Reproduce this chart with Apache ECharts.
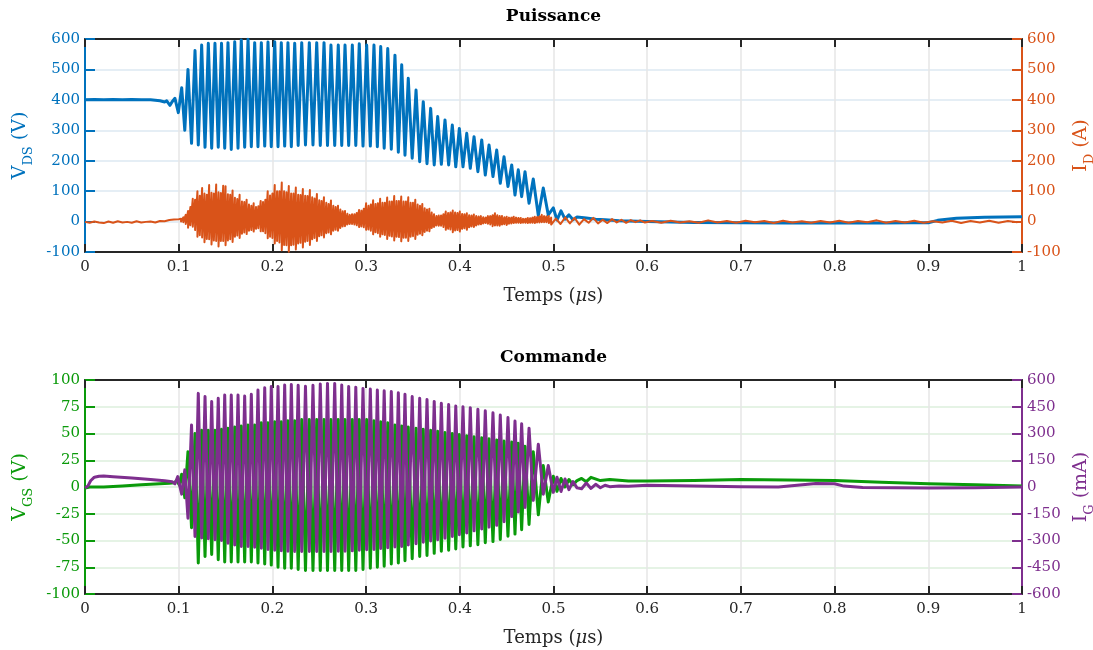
<!DOCTYPE html>
<html><head><meta charset="utf-8">
<script src="https://cdn.jsdelivr.net/npm/echarts@6/dist/echarts.min.js"></script>
<style>html,body{margin:0;padding:0;background:#fff;overflow:hidden}#c{width:1093px;height:650px}</style>
</head><body><div id="c"></div>
<script>
// ---------- axis ticks ----------
const xTicks = [0, 0.1, 0.2, 0.3, 0.4, 0.5, 0.6, 0.7, 0.8, 0.9, 1];
const vdsRange = [-100, 600, 100];
const vgsRange = [-100, 100, 25];
const igRange = [-600, 600, 150];

// ---------- shared oscillation instants (µs): peaks (VDS/VGS high) and troughs ----------
const tPeak = [0.1032,0.1099,0.1174,0.1245,0.1316,0.1387,0.1457,0.1526,0.1598,0.1668,
  0.1740,0.1811,0.1882,0.1953,0.2025,0.2095,0.2166,0.2238,0.2313,0.2394,
  0.2473,0.2551,0.2625,0.2703,0.2775,0.2853,0.2927,0.3006,0.3084,0.3156,
  0.3231,0.3308,0.3380,0.3450,0.3533,0.3610,0.3689,0.3764,0.3842,0.3920,
  0.3995,0.4074,0.4152,0.4234,0.4312,0.4394,0.4472,0.4554,0.4624,0.4696,
  0.4784,0.4891,0.4998,0.5080,0.5165,0.5251];
const tTrough = [0.1065,0.1137,0.1209,0.1281,0.1352,0.1422,0.1491,0.1561,0.1633,0.1704,
  0.1775,0.1846,0.1918,0.1988,0.2060,0.2131,0.2202,0.2275,0.2353,0.2433,
  0.2511,0.2588,0.2665,0.2740,0.2814,0.2890,0.2967,0.3045,0.3120,0.3193,
  0.3269,0.3344,0.3415,0.3492,0.3572,0.3650,0.3727,0.3803,0.3881,0.3957,
  0.4034,0.4112,0.4193,0.4272,0.4354,0.4432,0.4514,0.4589,0.4660,0.4739,
  0.4838,0.4944,0.5037,0.5123,0.5208];

// ---------- V_DS (V) ----------
const tVdsPre = [0,0.01,0.02,0.03,0.04,0.05,0.06,0.07,0.075,0.08,0.085,0.0872,0.0907,0.093,0.096,0.0996];
const vdsPre  = [400,401,400,401,400,401,400,400,399,397,393,397,382,394,405,358];
const vdsPeak = [440,500,562,580,586,586,586,588,591,597,
  599,588,588,590,591,588,588,586,588,588,
  588,588,580,580,580,580,584,580,580,575,
  569,547,515,471,432,394,372,345,334,317,
  306,290,279,268,252,235,213,186,170,164,
  140,110,45,35,22,15];
const vdsTrough = [300,257,252,244,241,244,241,237,241,244,
  246,246,248,246,246,248,246,250,252,252,
  250,250,250,250,250,250,248,248,246,241,
  238,228,218,208,197,190,186,188,186,180,
  180,175,164,153,148,126,115,87,82,60,
  20,22,5,8,6];
const tVdsPost = [0.535,0.545,0.555,0.57,0.6,0.65,0.7,0.75,0.8,0.85,0.88,0.9,0.91,0.93,0.96,1.0];
const vdsPost  = [12,8,6,3,0,-3,-4,-5,-5,-5,-4,-4,4,11,14,16];

// ---------- I_D (A) ----------
const tIdPre = [0,0.005,0.01,0.015,0.02,0.025,0.03,0.035,0.04,0.045,0.05,0.055,0.06,0.065,0.07,0.075,0.08,0.085,0.09,0.095];
const idPre  = [-1,-4,0,-3,-5,0,-4,1,-3,-1,-4,1,-3,-1,0,-3,2,1,5,7];
const tIdOsc = [0.1000,0.1025,0.1050,0.1075,0.1100,0.1125,0.1150,0.1175,0.1200,0.1225,
  0.1250,0.1275,0.1300,0.1325,0.1350,0.1375,0.1400,0.1425,0.1450,0.1475,
  0.1500,0.1525,0.1550,0.1575,0.1600,0.1625,0.1650,0.1675,0.1700,0.1725,
  0.1750,0.1775,0.1800,0.1825,0.1850,0.1875,0.1900,0.1925,0.1950,0.1975,
  0.2000,0.2025,0.2050,0.2075,0.2100,0.2125,0.2150,0.2175,0.2200,0.2225,
  0.2250,0.2275,0.2300,0.2325,0.2350,0.2375,0.2400,0.2425,0.2450,0.2475,
  0.2500,0.2525,0.2550,0.2575,0.2600,0.2625,0.2650,0.2675,0.2700,0.2725,
  0.2750,0.2775,0.2800,0.2825,0.2850,0.2875,0.2900,0.2925,0.2950,0.2975,
  0.3000,0.3025,0.3050,0.3075,0.3100,0.3125,0.3150,0.3175,0.3200,0.3225,
  0.3250,0.3275,0.3300,0.3325,0.3350,0.3375,0.3400,0.3425,0.3450,0.3475,
  0.3500,0.3525,0.3550,0.3575,0.3600,0.3625,0.3650,0.3675,0.3700,0.3725,
  0.3750,0.3775,0.3800,0.3825,0.3850,0.3875,0.3900,0.3925,0.3950,0.3975,
  0.4000,0.4025,0.4050,0.4075,0.4100,0.4125,0.4150,0.4175,0.4200,0.4225,
  0.4250,0.4275,0.4300,0.4325,0.4350,0.4375,0.4400,0.4425,0.4450,0.4475,
  0.4500,0.4525,0.4550,0.4575,0.4600,0.4625,0.4650,0.4675,0.4700,0.4725,
  0.4750,0.4775,0.4800,0.4825,0.4850,0.4875,0.4900,0.4925,0.4950,0.4975];
// upper and lower excursion of the I_D ripple at each instant
const idHigh = [8,9,14,22,35,48,75,72,100,85,
  110,92,88,120,95,92,122,96,94,118,
  116,90,88,102,78,74,88,66,64,72,
  56,52,60,48,50,68,64,72,100,86,
  92,120,100,100,128,100,96,117,92,92,
  112,88,87,107,85,84,104,80,76,91,
  70,68,80,62,58,69,52,48,52,40,
  34,35,26,22,24,24,28,38,36,42,
  60,52,56,70,58,60,75,62,62,79,
  66,66,84,68,68,82,66,66,80,62,
  62,72,56,52,58,44,40,42,30,24,
  18,20,20,24,33,28,30,36,30,28,
  33,25,24,27,21,20,23,18,17,18,
  14,13,18,18,21,27,21,18,18,14,
  16,13,13,16,13,12,12,9,9,12,
  11,13,16,15,17,22,18,17,18,13];
const idLow = [2,0,-2,-8,-20,-12,-17,-28,-50,-45,
  -52,-68,-57,-58,-75,-62,-64,-82,-64,-64,
  -78,-62,-58,-67,-50,-46,-54,-40,-36,-41,
  -30,-28,-33,-24,-22,-32,-32,-38,-55,-50,
  -54,-72,-64,-69,-94,-77,-78,-99,-78,-76,
  -92,-72,-70,-85,-66,-64,-77,-58,-54,-64,
  -48,-45,-52,-38,-36,-42,-30,-27,-30,-21,
  -16,-15,-10,-8,-8,-10,-12,-18,-16,-19,
  -27,-26,-30,-42,-35,-38,-50,-42,-44,-57,
  -47,-49,-62,-50,-51,-65,-53,-53,-64,-50,
  -48,-57,-43,-40,-45,-34,-30,-32,-21,-18,
  -13,-14,-14,-18,-27,-24,-26,-35,-29,-28,
  -33,-24,-22,-27,-19,-16,-18,-13,-10,-9,
  -6,-5,-7,-10,-15,-13,-13,-14,-10,-9,
  -11,-7,-6,-5,-4,-4,-5,-4,-4,-5,
  -4,-4,-5,-3,-3,-2,-2,-2,-5,-10];
const tIdPost = [0.5025,0.5075,0.5125,0.5175,0.5225,0.5275,0.5325,0.5375,0.5425,0.5475,
  0.5525,0.5575,0.5625,0.5675,0.5725,0.5775,0.5825,0.5875,0.5925,0.5975,
  0.605,0.615,0.625,0.635,0.645,0.655,0.665,0.675,0.685,0.695,
  0.705,0.715,0.725,0.735,0.745,0.755,0.765,0.775,0.785,0.795,
  0.805,0.815,0.825,0.835,0.845,0.855,0.865,0.875,0.885,0.895,
  0.905,0.915,0.925,0.935,0.945,0.955,0.965,0.975,0.985,0.995];
const idPost = [10,-8,14,-6,12,-10,8,-4,12,-6,
  6,-5,8,-3,6,-4,5,-2,4,-3,
  2,-4,3,-3,1,-4,4,-3,2,-4,
  3,-2,2,-5,3,-3,1,-4,2,-3,
  3,-4,2,-2,4,-4,2,-3,3,-4,
  1,-3,3,-5,2,-3,3,-4,2,-2];

// ---------- V_GS (V) ----------
const tVgsPre = [0,0.005,0.02,0.04,0.06,0.08,0.09,0.095,0.098,0.1005];
const vgsPre  = [-1,0,0,1,2,3,3.5,4,6,2];
const vgsPeak = [12,33,50,53,53,53,54,55,56,57,
  58,58,60,60,61,61,62,62,63,63,
  63,63,63,63,63,63,63,63,62,61,
  60,58,57,56,55,54,53,52,51,50,
  49,48,47,46,45,44,43,42,41,38,
  33,20,10,8,7,6];
const vgsTrough = [-10,-38,-71,-65,-63,-68,-70,-70,-70,-70,
  -70,-71,-72,-73,-75,-76,-76,-77,-78,-78,
  -78,-78,-78,-78,-78,-78,-77,-76,-75,-74,
  -72,-71,-69,-67,-65,-64,-62,-60,-59,-58,
  -56,-55,-54,-52,-51,-49,-46,-44,-40,-35,
  -26,-14,-4,0,2];
const tVgsPost = [0.53,0.535,0.54,0.55,0.56,0.58,0.6,0.65,0.7,0.75,0.8,0.85,0.9,0.95,1.0];
const vgsPost  = [8,5,9,6,7,5.5,5.5,6,7,6.5,6,4.5,3,2,1];

// ---------- I_G (mA) ----------
const tIgPre = [0,0.003,0.006,0.01,0.015,0.02,0.03,0.05,0.07,0.085,0.093,0.096,0.099,0.1005];
const igPre  = [-5,5,35,55,60,62,58,50,42,35,30,18,58,20];
const igAtPeak = [-40,-175,-277,-286,-290,-296,-300,-315,-325,-333,
  -333,-338,-343,-350,-355,-358,-360,-361,-361,-362,
  -362,-362,-361,-360,-360,-358,-355,-352,-350,-345,
  -340,-336,-333,-325,-318,-310,-303,-296,-287,-278,
  -268,-258,-246,-235,-225,-215,-195,-166,-140,-115,
  -75,-40,-30,-25,-15,-5];
const igAtTrough = [96,348,525,507,479,497,516,516,516,510,
  520,544,557,563,563,572,575,570,565,570,
  578,581,580,572,563,560,553,550,544,540,
  535,528,520,507,498,490,480,469,462,454,
  450,445,436,428,416,404,390,370,355,330,
  240,120,55,45,30];
const tIgPost = [0.53,0.535,0.54,0.545,0.55,0.555,0.56,0.57,0.58,0.6,0.65,0.7,0.74,0.76,0.78,0.8,0.81,0.83,0.9,0.95,1.0];
const igPost  = [-10,22,-8,15,-4,10,2,6,4,10,5,2,0,10,20,18,5,-3,-6,-4,0];

// ---------- helpers ----------
function zip(ts, vs) { const n = Math.min(ts.length, vs.length); const o = []; for (let i = 0; i < n; i++) o.push([ts[i], vs[i]]); return o; }
function weave(tp, vp, tt, vt) {
  const o = [];
  for (let i = 0; i < tp.length; i++) {
    if (i < vp.length) o.push([tp[i], vp[i]]);
    if (i < tt.length && i < vt.length) o.push([tt[i], vt[i]]);
  }
  return o;
}
function band(ts, hi, lo) {
  const o = []; const n = Math.min(ts.length, hi.length, lo.length);
  for (let i = 0; i < n; i++) { o.push([ts[i], hi[i]]); o.push([ts[i], lo[i]]); }
  return o;
}
const vdsData = zip(tVdsPre, vdsPre).concat(weave(tPeak, vdsPeak, tTrough, vdsTrough), zip(tVdsPost, vdsPost));
const idData  = zip(tIdPre, idPre).concat(band(tIdOsc, idHigh, idLow), zip(tIdPost, idPost));
const vgsData = zip(tVgsPre, vgsPre).concat(weave(tPeak, vgsPeak, tTrough, vgsTrough), zip(tVgsPost, vgsPost));
const igData  = zip(tIgPre, igPre).concat(weave(tPeak, igAtPeak, tTrough, igAtTrough), zip(tIgPost, igPost));

const FONT = 'DejaVu Serif';
const DARK = '#262626';
const BLUE = '#0072BD', ORANGE = '#D95319', GREEN = '#0A9A0A', PURPLE = '#7E2F8E';

function xPair(g) {
  return [
    { type: 'value', gridIndex: g, position: 'bottom', min: xTicks[0], max: xTicks[xTicks.length - 1], interval: 0.1,
      axisLine: { show: true, onZero: false, lineStyle: { color: DARK, width: 2 } },
      axisTick: { show: true, inside: true, length: 8, lineStyle: { color: DARK, width: 2 } },
      axisLabel: { color: DARK, fontFamily: FONT, fontSize: 15, margin: 8, formatter: v => String(+v.toFixed(1)) },
      splitLine: { show: true, lineStyle: { color: '#e6e6e6', width: 1.5 } },
      name: '{n|Temps (}{i|μ}{n|s)}', nameLocation: 'middle', nameGap: 35,
      nameTextStyle: { rich: { n: { fontFamily: FONT, fontSize: 18, color: DARK }, i: { fontFamily: FONT, fontStyle: 'italic', fontSize: 18, color: DARK } } } },
    { type: 'value', gridIndex: g, position: 'top', min: xTicks[0], max: xTicks[xTicks.length - 1], interval: 0.1,
      axisLine: { show: true, onZero: false, lineStyle: { color: DARK, width: 2 } },
      axisTick: { show: true, inside: true, length: 8, lineStyle: { color: DARK, width: 2 } },
      axisLabel: { show: false }, splitLine: { show: false } }
  ];
}
function yAx(g, pos, range, color, gridColor, main, sub, unit, gap) {
  return { type: 'value', gridIndex: g, position: pos, min: range[0], max: range[1], interval: range[2],
    axisLine: { show: true, onZero: false, lineStyle: { color: color, width: 2 } },
    axisTick: { show: true, inside: true, length: 10, lineStyle: { color: color, width: 2 } },
    axisLabel: { color: color, fontFamily: FONT, fontSize: 15, margin: 5 },
    splitLine: gridColor ? { show: true, lineStyle: { color: gridColor, width: 1.5 } } : { show: false },
    name: '{a|' + main + '}{b|' + sub + '}{a| ' + unit + '}', nameLocation: 'middle', nameRotate: 90, nameGap: gap,
    nameTextStyle: { color: color, rich: {
      a: { fontFamily: FONT, fontSize: 19, color: color, lineHeight: 30, verticalAlign: 'middle' },
      b: { fontFamily: FONT, fontSize: 13, color: color, lineHeight: 14, verticalAlign: 'bottom' } } } };
}
function line(xi, yi, data, color, w, z) {
  return { type: 'line', xAxisIndex: xi, yAxisIndex: yi, data: data, showSymbol: false, symbol: 'none',
    lineStyle: { color: color, width: w, join: 'round' }, itemStyle: { color: color }, z: z, silent: true, animation: false };
}
function titleText(txt, y) {
  return { type: 'text', x: 553.5, y: y, silent: true,
    style: { text: txt, fontFamily: FONT, fontSize: 17, fontWeight: 'bold', fill: '#000',
      align: 'center', verticalAlign: 'middle', textAlign: 'center', textVerticalAlign: 'middle' } };
}

const chart = echarts.init(document.getElementById('c'), null, { renderer: 'canvas' });
chart.setOption({
  animation: false,
  backgroundColor: '#ffffff',
  graphic: [titleText('Puissance', 17), titleText('Commande', 358)],
  grid: [
    { left: 85, top: 39, width: 937, height: 213, containLabel: false, outerBoundsMode: 'none' },
    { left: 85, top: 380, width: 937, height: 214, containLabel: false, outerBoundsMode: 'none' }
  ],
  xAxis: xPair(0).concat(xPair(1)),
  yAxis: [
    yAx(0, 'left', vdsRange, BLUE, '#dde8f2', 'V', 'DS', '(V)', 49),
    yAx(0, 'right', vdsRange, ORANGE, null, 'I', 'D', '(A)', 38),
    yAx(1, 'left', vgsRange, GREEN, '#dcefdc', 'V', 'GS', '(V)', 49),
    yAx(1, 'right', igRange, PURPLE, null, 'I', 'G', '(mA)', 38)
  ],
  series: [
    line(0, 0, vdsData, BLUE, 3, 2),
    line(0, 1, idData, ORANGE, 2, 3),
    line(2, 2, vgsData, GREEN, 3, 2),
    line(2, 3, igData, PURPLE, 3, 3)
  ]
});
</script>
</body></html>
